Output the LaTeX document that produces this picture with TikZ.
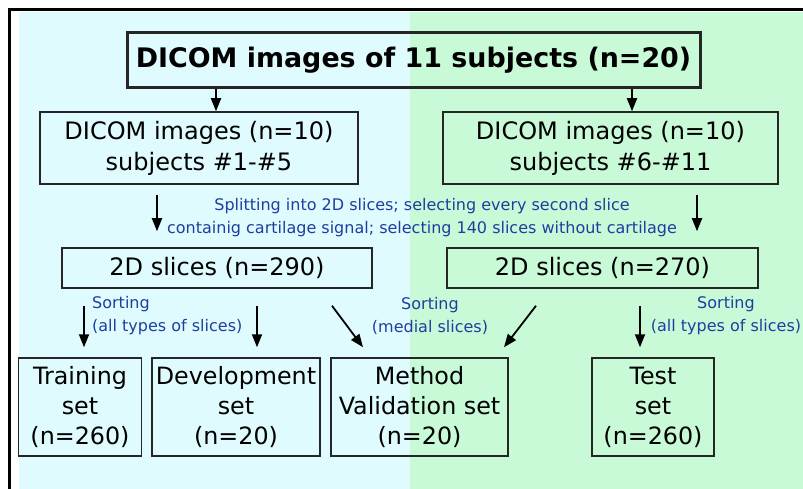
\documentclass[tikz,border=0pt]{standalone}
\usepackage{fontspec}
\setmainfont{DejaVu Sans}
\usetikzlibrary{arrows.meta,calc}
\definecolor{bgcyan}{RGB}{224,251,253}
\definecolor{bggreen}{RGB}{200,250,216}
\definecolor{lblue}{RGB}{30,62,160}
\tikzset{
  box/.style={draw=black!85, line width=1.5pt, align=center, inner sep=0pt, font=\fontsize{24}{31}\selectfont},
  setbox/.style={box, minimum height=98pt, font=\fontsize{23.8}{30}\selectfont},
  arr/.style={-{Triangle[length=13pt,width=10pt]}, line width=1.8pt, black},
  lbl/.style={text=lblue, align=center, inner sep=0pt, font=\fontsize{16}{23}\selectfont},
}
\begin{document}
\begin{tikzpicture}[x=1pt,y=-1pt]
\useasboundingbox (0,0) rectangle (803,489);
\fill[white] (0,0) rectangle (803,489);
\fill[bgcyan] (19,12) rectangle (410,489);
\fill[bggreen] (410,12) rectangle (803,489);
\draw[line width=3pt] (9.5,489) -- (9.5,10) -- (803,10);

\node[box, line width=3pt, minimum width=573pt, minimum height=55pt, font=\bfseries\fontsize{26.9}{34}\selectfont] (top) at (413.5,60.5) {DICOM images of 11 subjects (n=20)};
\node[box, minimum width=318pt, minimum height=72pt] (dl) at (199,148) {DICOM images (n=10)\\subjects \#1-\#5};
\node[box, minimum width=335pt, minimum height=72pt] (dr) at (610.5,148) {DICOM images (n=10)\\subjects \#6-\#11};
\node[box, minimum width=310pt, minimum height=40pt] (sl) at (217,268) {2D slices (n=290)};
\node[box, minimum width=311pt, minimum height=40pt] (sr) at (602.5,268) {2D slices (n=270)};
\node[setbox, minimum width=123pt] (tr) at (80,407) {Training\\set\\(n=260)};
\node[setbox, minimum width=168pt] (dev) at (236,407) {Development\\set\\(n=20)};
\node[setbox, minimum width=177pt] (mv) at (419.5,407) {Method\\Validation set\\(n=20)};
\node[setbox, minimum width=122pt] (te) at (653,407) {Test\\set\\(n=260)};

\node[lbl] (split) at (422,217.5) {Splitting into 2D slices; selecting every second slice\\containig cartilage signal; selecting 140 slices without cartilage};
\node[lbl, align=left, anchor=west] (sortl) at (92,316) {Sorting\\(all types of slices)};
\node[lbl] (sortm) at (430,316) {Sorting\\(medial slices)};
\node[lbl] (sortr) at (726,316) {Sorting\\(all types of slices)};

\draw[arr] ([xshift=-197.5pt]top.south) -- ([xshift=17pt]dl.north);
\draw[arr] ([xshift=218.5pt]top.south) -- ([xshift=21.5pt]dr.north);
\draw[arr] ([shift={(-42,10)}]dl.south) -- ([shift={(-60,-16)}]sl.north);
\draw[arr] ([shift={(86.5,10)}]dr.south) -- ([shift={(94.5,-16)}]sr.north);
\draw[arr] ([shift={(-133,17)}]sl.south) -- ([shift={(4,-10)}]tr.north);
\draw[arr] ([shift={(40,17)}]sl.south) -- ([shift={(21,-10)}]dev.north);
\draw[arr] ([shift={(115,17)}]sl.south) -- ([shift={(-56.5,-10)}]mv.north);
\draw[arr] ([shift={(-66.5,17)}]sr.south) -- ([shift={(84.5,-10)}]mv.north);
\draw[arr] ([shift={(37.5,17)}]sr.south) -- ([shift={(-13,-10)}]te.north);
\end{tikzpicture}
\end{document}
